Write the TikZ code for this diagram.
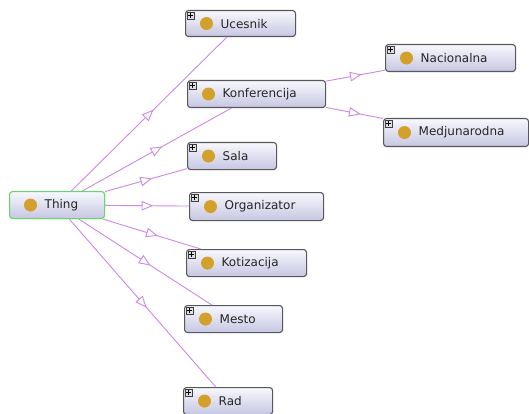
\documentclass[tikz,border=0pt]{standalone}
\usepackage{fontspec}
\setmainfont{DejaVu Sans}
\usetikzlibrary{decorations.markings,calc}

\definecolor{isaline}{RGB}{204,136,230}
\definecolor{boxtop}{RGB}{248,248,253}
\definecolor{boxbottom}{RGB}{198,198,226}
\definecolor{boxedge}{RGB}{88,88,92}
\definecolor{rootedge}{RGB}{96,218,96}
\definecolor{classdot}{RGB}{212,160,44}
\definecolor{plusfill}{RGB}{222,222,228}

\tikzset{
  classbox/.style={draw=boxedge, line width=1.1pt, rounded corners=3pt,
    top color=boxtop, bottom color=boxbottom, inner sep=0pt, anchor=north west},
  rootbox/.style={classbox, draw=rootedge},
  classdotnode/.style={circle, fill=classdot, draw=none, minimum size=13pt, inner sep=0pt},
  classlabel/.style={anchor=west, inner sep=0pt, font=\fontsize{12}{14}\selectfont, text=black!85},
  plusbox/.style={draw=black!75, fill=plusfill, line width=0.6pt, minimum size=7pt, inner sep=0pt},
  isa/.style={draw=isaline, line width=0.9pt,
    postaction={decorate, decoration={markings, mark=at position 0.5 with {
      \draw[isaline, fill=white, line width=0.9pt, line join=miter]
        (5pt,0) -- (-5pt,4.2pt) -- (-5pt,-4.2pt) -- cycle;}}}}
}

% a class box: name, left, top, right, bottom, label, box style
\newcommand{\owlclass}[7]{%
  \node[#7, minimum width={(#4-#2)*1pt}, minimum height={(#5-#3)*1pt}] (#1) at (#2,#3) {};
  \node[classdotnode] (#1-dot) at ([xshift=21.5pt]#1.west) {};
  \node[classlabel] (#1-label) at ([xshift=35.5pt]#1.west) {#6};
}
% the small expand marker in the upper left corner of a box
\newcommand{\expandmark}[1]{%
  \node[plusbox] (#1-plus) at ([xshift=5.5pt,yshift=-5.5pt]#1.north west) {};
  \draw[black, line width=0.6pt] ([xshift=1.3pt]#1-plus.west) -- ([xshift=-1.3pt]#1-plus.east)
    ([yshift=-1.3pt]#1-plus.north) -- ([yshift=1.3pt]#1-plus.south);
}

\begin{document}
\begin{tikzpicture}[x=1pt, y=-1pt]
  \useasboundingbox[fill=white] (0,0) rectangle (529,414);

  \owlclass{thing}{9}{191}{104}{218}{Thing}{rootbox}
  \owlclass{ucesnik}{185}{10}{295}{36}{Ucesnik}{classbox}
  \owlclass{konf}{187}{80}{325}{107}{Konferencija}{classbox}
  \owlclass{sala}{187}{142}{276}{169}{Sala}{classbox}
  \owlclass{org}{189}{192}{323}{220}{Organizator}{classbox}
  \owlclass{kot}{186}{249}{306}{276}{Kotizacija}{classbox}
  \owlclass{mesto}{184}{305}{282}{332}{Mesto}{classbox}
  \owlclass{rad}{183}{387}{272}{414}{Rad}{classbox}
  \owlclass{nac}{385}{44}{515}{71}{Nacionalna}{classbox}
  \owlclass{medj}{383}{118}{528}{146}{Medjunarodna}{classbox}

  \foreach \c in {ucesnik,konf,sala,org,kot,mesto,rad,nac,medj} {\expandmark{\c}}

  % subclass links
  \foreach \c in {ucesnik,konf,sala,org,kot,mesto,rad} {\draw[isa] (thing) -- (\c);}
  \draw[isa] (konf) -- (nac);
  \draw[isa] (konf) -- (medj);
\end{tikzpicture}
\end{document}
